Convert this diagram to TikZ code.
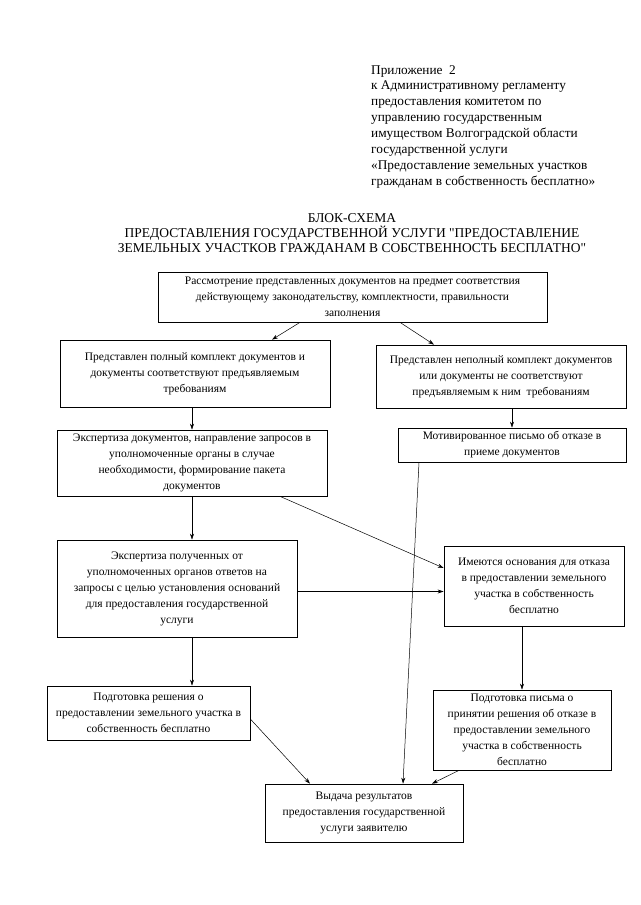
\documentclass[tikz,border=0pt]{standalone}
\usepackage{fontspec}
\setmainfont{Liberation Serif}
\usetikzlibrary{arrows.meta,calc}
\begin{document}
\begin{tikzpicture}[x=1pt,y=-1pt,
  box/.style={draw, line width=0.7pt, inner sep=0pt, align=center, font=\fontsize{11.5}{16}\selectfont},
  arr/.style={line width=0.5pt, -{Stealth[length=6pt,width=4pt]}},
  ln/.style={line width=0.5pt}]
\useasboundingbox[fill=white] (0,0) rectangle (640,905);
\node[anchor=north west, align=left, inner sep=0pt, font=\fontsize{13.3}{15.9}\selectfont] (hdr) at (371,65)
 {Приложение~~2\\к Административному регламенту\\предоставления комитетом по\\управлению государственным\\имуществом Волгоградской области\\государственной услуги\\«Предоставление земельных участков\\гражданам в собственность бесплатно»};
\node[align=center, inner sep=0pt, font=\fontsize{13.5}{15}\selectfont] (ttl) at (352,234)
 {БЛОК-СХЕМА\\ПРЕДОСТАВЛЕНИЯ ГОСУДАРСТВЕННОЙ УСЛУГИ \textquotedbl ПРЕДОСТАВЛЕНИЕ\\ЗЕМЕЛЬНЫХ УЧАСТКОВ ГРАЖДАНАМ В СОБСТВЕННОСТЬ БЕСПЛАТНО\textquotedbl};

\node[box, minimum width=389pt, minimum height=50pt] (b1) at (352.5,297)
 {Рассмотрение представленных документов на предмет соответствия\\действующему законодательству, комплектности, правильности\\заполнения};
\node[box, minimum width=270pt, minimum height=67pt] (b2) at (195,373.5)
 {Представлен полный комплект документов и\\документы соответствуют предъявляемым\\требованиям};
\node[box, minimum width=250pt, minimum height=63pt] (b3) at (501,376.5)
 {Представлен неполный комплект документов\\или документы не соответствуют\\предъявляемым к ним~~требованиям};
\node[box, minimum width=270pt, minimum height=66pt] (b4) at (192,463)
 {Экспертиза документов, направление запросов в\\уполномоченные органы в случае\\необходимости, формирование пакета\\документов};
\node[box, minimum width=228pt, minimum height=34pt] (b5) at (512,445)
 {Мотивированное письмо об отказе в\\приеме документов};
\node[box, minimum width=240pt, minimum height=97pt] (b6) at (177,588.5)
 {Экспертиза полученных от\\уполномоченных органов ответов на\\запросы с целью установления оснований\\для предоставления государственной\\услуги};
\node[box, minimum width=180pt, minimum height=80pt] (b7) at (534,586)
 {Имеются основания для отказа\\в предоставлении земельного\\участка в собственность\\бесплатно};
\node[box, minimum width=203pt, minimum height=54pt] (b8) at (148.5,713)
 {Подготовка решения о\\предоставлении земельного участка в\\собственность бесплатно};
\node[box, minimum width=178pt, minimum height=80pt] (b9) at (522,730)
 {Подготовка письма о\\принятии решения об отказе в\\предоставлении земельного\\участка в собственность\\бесплатно};
\node[box, minimum width=198pt, minimum height=58pt] (b10) at (364,813)
 {Выдача результатов\\предоставления государственной\\услуги заявителю};

\draw[arr] ([xshift=-52.5pt]b1.south) -- ([xshift=77pt]b2.north);
\draw[arr] ([xshift=47.5pt]b1.south) -- ([xshift=-67pt]b3.north);
\draw[arr] (b2.south -| b4.north) -- (b4.north);
\draw[arr] (b3.south -| b5.north) -- (b5.north);
\draw[arr] ([xshift=88pt]b4.south) -- ([yshift=18pt]b7.west);
\draw[arr] (b4.south) -- (b4.south |- b6.north);
\draw[arr] ([xshift=-93pt]b5.south) -- ([xshift=39pt]b10.north);
\draw[arr] ([yshift=-3pt]b6.east) -- ([yshift=-3pt]b6.east -| b7.west);
\draw[arr] ([xshift=15pt]b6.south) -- ([xshift=15pt]b6.south |- b8.north);
\draw[arr] (b9.north |- b7.south) -- (b9.north);
\draw[arr] ([yshift=-6pt]b8.east) -- ([xshift=-54pt]b10.north);
\draw[arr] ([xshift=-63pt]b9.south) -- ([xshift=68pt]b10.north);
\end{tikzpicture}
\end{document}
